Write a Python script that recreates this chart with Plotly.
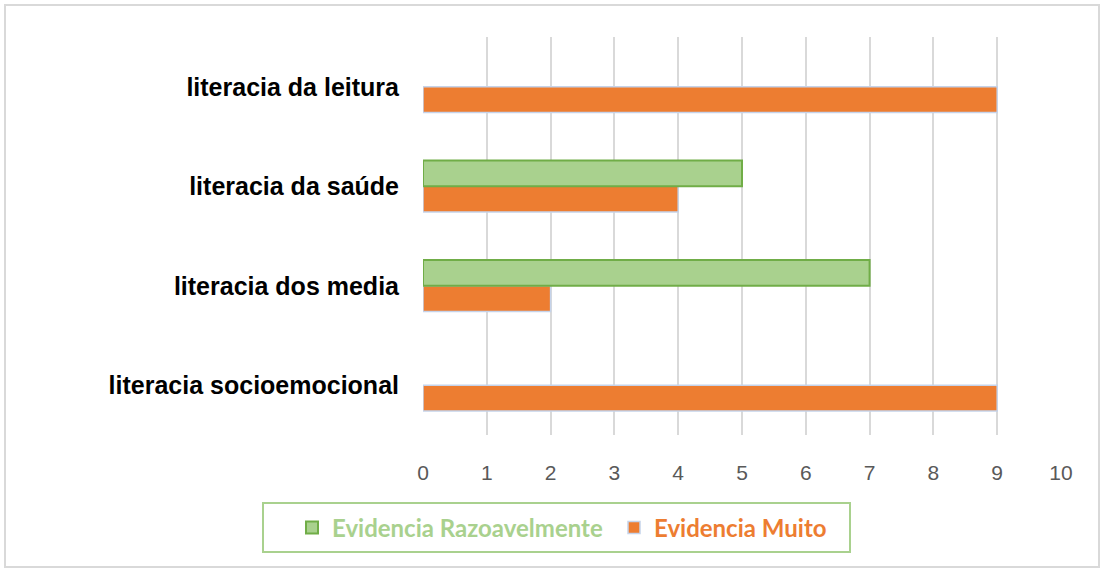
import plotly.graph_objects as go

categories = ["literacia socioemocional", "literacia dos media", "literacia da saúde", "literacia da leitura"]
razoavelmente = [0, 7, 5, 0]
muito = [9, 2, 4, 9]
x_ticks = list(range(0, 11))

W, H = 1104, 570
L, R, T, B = 423, 43, 37, 135
pw, ph = W - L - R, H - T - B

def px_x(x):
    return (x - L) / pw

def px_y(y):
    return 1 - (y - T) / ph

GREEN = "#A9D18E"
ORANGE = "#ED7D31"

fig = go.Figure()
fig.add_trace(go.Bar(
    y=categories, x=muito, orientation="h",
    name=f"<span style='color:{ORANGE}'>Evidencia Muito</span>",
    marker=dict(color=ORANGE, line=dict(color="#C5D3EA", width=1.5)),
    legendrank=2,
))
fig.add_trace(go.Bar(
    y=categories, x=[v if v else None for v in razoavelmente], orientation="h",
    name=f"<span style='color:{GREEN}'>Evidencia Razoavelmente</span>",
    marker=dict(color=GREEN, line=dict(color="#70AD47", width=2)),
    legendrank=1,
))

fig.update_layout(
    width=W, height=H,
    margin=dict(l=L, r=R, t=T, b=B, autoexpand=False),
    paper_bgcolor="white", plot_bgcolor="white",
    barmode="group", bargap=0.48, bargroupgap=0,
    font=dict(family="Liberation Sans, Arial, sans-serif"),
    xaxis=dict(
        range=[0, 10], tickvals=x_ticks, showgrid=True, gridcolor="#D9D9D9", gridwidth=2,
        zeroline=False, showline=False, ticks="outside", ticklen=19, tickcolor="rgba(0,0,0,0)",
        tickfont=dict(size=21, color="#595959"),
    ),
    yaxis=dict(
        showgrid=False, zeroline=False, showline=False, ticks="outside", ticklen=18,
        tickcolor="rgba(0,0,0,0)",
        tickfont=dict(size=25, color="#000000", family="Liberation Sans, Arial, sans-serif", weight="bold"),
        range=[-0.5, 3.5],
    ),
    legend=dict(
        orientation="h", x=px_x(292), y=px_y(528), xanchor="left", yanchor="middle",
        font=dict(family="Lato, sans-serif", size=24, weight="bold"),
        bgcolor="rgba(0,0,0,0)", borderwidth=0, traceorder="normal", itemwidth=30,
        entrywidth=277,
    ),
    shapes=[
        dict(type="rect", xref="paper", yref="paper", x0=px_x(5), x1=px_x(1099), y0=px_y(567), y1=px_y(5),
             line=dict(color="#D9D9D9", width=2), fillcolor="rgba(0,0,0,0)", layer="below"),
        dict(type="rect", xref="paper", yref="paper", x0=px_x(263), x1=px_x(850), y0=px_y(552), y1=px_y(503),
             line=dict(color=GREEN, width=2), fillcolor="rgba(0,0,0,0)"),
    ],
)

fig.write_html("out.html", config={"displayModeBar": False},
               post_script="document.body.style.margin='0';document.body.style.overflow='hidden';")
